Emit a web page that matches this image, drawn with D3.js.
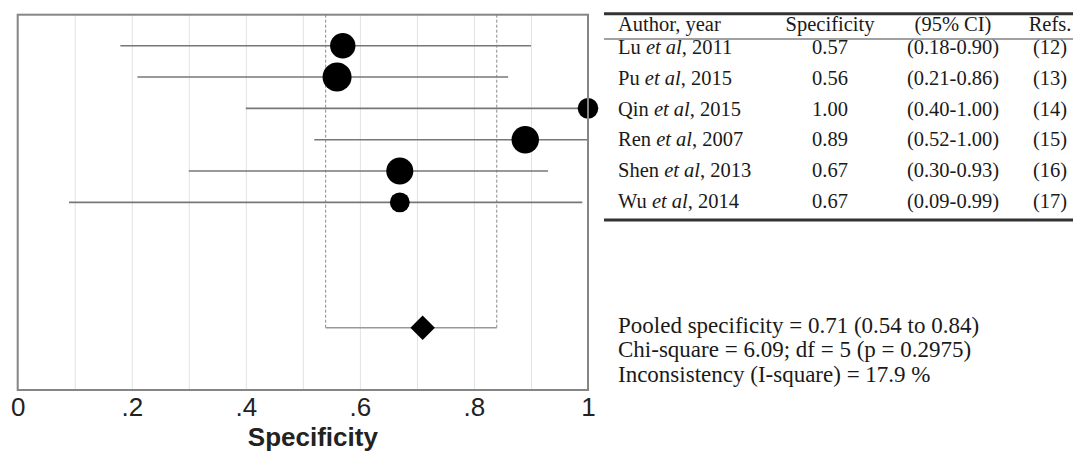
<!DOCTYPE html>
<html>
<head>
<meta charset="utf-8">
<script src="https://cdn.jsdelivr.net/npm/d3@7"></script>
<style>
  body { margin: 0; background: #fff; }
  svg { display: block; }
</style>
</head>
<body>
<svg></svg>
<script>
//size of the svg
let width = 1073
let height = 451

//study data
let authors = ['Lu', 'Pu', 'Qin', 'Ren', 'Shen', 'Wu']
let years = [2011, 2015, 2015, 2007, 2013, 2014]
let spec = [0.57, 0.56, 1.00, 0.89, 0.67, 0.67]
let lower = [0.18, 0.21, 0.40, 0.52, 0.30, 0.09]
let upper = [0.90, 0.86, 1.00, 1.00, 0.93, 0.99]
let refs = ['(12)', '(13)', '(14)', '(15)', '(16)', '(17)']
//relative study weights (marker area)
let weights = [17.0, 22.2, 11.2, 19.9, 19.3, 10.4]

//pooled estimate
let pooled = 0.71
let pooledLower = 0.54
let pooledUpper = 0.84

//axis ticks
let gridTicks = [0.1, 0.2, 0.3, 0.4, 0.5, 0.6, 0.7, 0.8, 0.9]
let labelTicks = [0, 0.2, 0.4, 0.6, 0.8, 1]

let tableHeader = ['Author, year', 'Specificity', '(95% CI)', 'Refs.']
let statLines = [
    'Pooled specificity = 0.71 (0.54 to 0.84)',
    'Chi-square = 6.09; df = 5 (p = 0.2975)',
    'Inconsistency (I-square) = 17.9 %'
]

//plot box
let boxLeft = 17.7
let boxRight = 588
let boxTop = 14.7
let boxBottom = 390

let svg = d3.select('svg')
    .attr('width', width)
    .attr('height', height)

//scales
let xScale = d3.scaleLinear()
    .domain([0, 1])
    .range([boxLeft, boxRight])

//rows 0..5 are studies, row 9 is the pooled estimate
let yScale = d3.scaleLinear()
    .domain([0, 9])
    .range([45.7, 327.7])

let rScale = d3.scaleSqrt()
    .domain([0, d3.max(weights)])
    .range([0, 14.5])

let fmt = d => (d === 0 || d === 1) ? String(d) : d3.format('.1f')(d).replace(/^0/, '')

//1. grid lines
let grid = svg.append('g')
    .attr('transform', 'translate(0,' + boxBottom + ')')
    .call(d3.axisBottom(xScale).tickValues(gridTicks).tickSize(-(boxBottom - boxTop)).tickFormat(''))
grid.select('.domain').remove()
grid.selectAll('line').attr('stroke', '#e2e2e2').attr('stroke-width', 1)

//2. tick labels
let axis = svg.append('g')
    .attr('transform', 'translate(0,' + boxBottom + ')')
    .call(d3.axisBottom(xScale).tickValues(labelTicks).tickSize(0).tickPadding(8).tickFormat(fmt))
axis.select('.domain').remove()
axis.selectAll('text')
    .attr('font-family', 'Liberation Sans, Arial, sans-serif')
    .attr('font-size', 26)
    .attr('fill', '#222')

svg.append('text')
    .attr('x', xScale(0.5) + 10)
    .attr('y', 446)
    .attr('text-anchor', 'middle')
    .attr('font-family', 'Liberation Sans, Arial, sans-serif')
    .attr('font-size', 26)
    .attr('font-weight', 'bold')
    .attr('fill', '#222')
    .text('Specificity')

//3. pooled confidence bracket
let pooledY = yScale(9)
;[pooledLower, pooledUpper].forEach(v => {
    svg.append('line')
        .attr('x1', xScale(v)).attr('x2', xScale(v))
        .attr('y1', boxTop).attr('y2', pooledY)
        .attr('stroke', '#8a8a8a')
        .attr('stroke-width', 1)
        .attr('stroke-dasharray', '3,2')
})
svg.append('line')
    .attr('x1', xScale(pooledLower)).attr('x2', xScale(pooledUpper))
    .attr('y1', pooledY).attr('y2', pooledY)
    .attr('stroke', '#999')
    .attr('stroke-width', 1.5)

//4. study CI lines and points
let rows = authors.map((a, i) => ({ i: i, spec: spec[i], lo: lower[i], hi: upper[i], w: weights[i] }))

svg.selectAll('.ci')
    .data(rows)
    .enter()
    .append('line')
    .attr('class', 'ci')
    .attr('x1', d => xScale(d.lo))
    .attr('x2', d => xScale(d.hi))
    .attr('y1', d => yScale(d.i))
    .attr('y2', d => yScale(d.i))
    .attr('stroke', '#777')
    .attr('stroke-width', 1.6)

svg.selectAll('.pt')
    .data(rows)
    .enter()
    .append('circle')
    .attr('class', 'pt')
    .attr('cx', d => xScale(d.spec))
    .attr('cy', d => yScale(d.i))
    .attr('r', d => rScale(d.w))
    .attr('fill', '#000')

svg.append('path')
    .attr('d', d3.symbol(d3.symbolSquare).size(300)())
    .attr('transform', 'translate(' + xScale(pooled) + ',' + pooledY + ') rotate(45)')
    .attr('fill', '#000')

//5. frame
svg.append('rect')
    .attr('x', boxLeft).attr('y', boxTop)
    .attr('width', boxRight - boxLeft).attr('height', boxBottom - boxTop)
    .attr('fill', 'none')
    .attr('stroke', '#858585')
    .attr('stroke-width', 2)

//6. table on the right
let serif = 'Liberation Serif, Times New Roman, serif'
let colX = [618, 830, 953, 1050]
let colAnchor = ['start', 'middle', 'middle', 'middle']
let tbl = svg.append('g').attr('font-family', serif).attr('font-size', 20.5).attr('fill', '#1a1a1a')

tbl.append('line').attr('x1', 604).attr('x2', 1073).attr('y1', 13.8).attr('y2', 13.8)
    .attr('stroke', '#333').attr('stroke-width', 3)
tbl.append('line').attr('x1', 604).attr('x2', 1073).attr('y1', 39).attr('y2', 39)
    .attr('stroke', '#444').attr('stroke-width', 1.2)
tbl.append('line').attr('x1', 604).attr('x2', 1073).attr('y1', 220).attr('y2', 220)
    .attr('stroke', '#333').attr('stroke-width', 3)

tableHeader.forEach((h, j) => {
    tbl.append('text')
        .attr('x', colX[j]).attr('y', 31)
        .attr('text-anchor', colAnchor[j])
        .text(h)
})

let rowBase = i => 54 + 30.8 * i

rows.forEach(d => {
    let t = tbl.append('text').attr('x', colX[0]).attr('y', rowBase(d.i))
    t.append('tspan').text(authors[d.i] + ' ')
    t.append('tspan').attr('font-style', 'italic').text('et al')
    t.append('tspan').text(', ' + years[d.i])

    tbl.append('text').attr('x', colX[1]).attr('y', rowBase(d.i))
        .attr('text-anchor', 'middle').text(d3.format('.2f')(d.spec))
    tbl.append('text').attr('x', colX[2]).attr('y', rowBase(d.i))
        .attr('text-anchor', 'middle')
        .text('(' + d3.format('.2f')(d.lo) + '-' + d3.format('.2f')(d.hi) + ')')
    tbl.append('text').attr('x', colX[3]).attr('y', rowBase(d.i))
        .attr('text-anchor', 'middle').text(refs[d.i])
})

//7. summary statistics
svg.append('g')
    .selectAll('text')
    .data(statLines)
    .enter()
    .append('text')
    .attr('x', 618)
    .attr('y', (d, i) => 333 + 24.3 * i)
    .attr('font-family', serif)
    .attr('font-size', 23)
    .attr('fill', '#1a1a1a')
    .text(d => d)
</script>
</body>
</html>
